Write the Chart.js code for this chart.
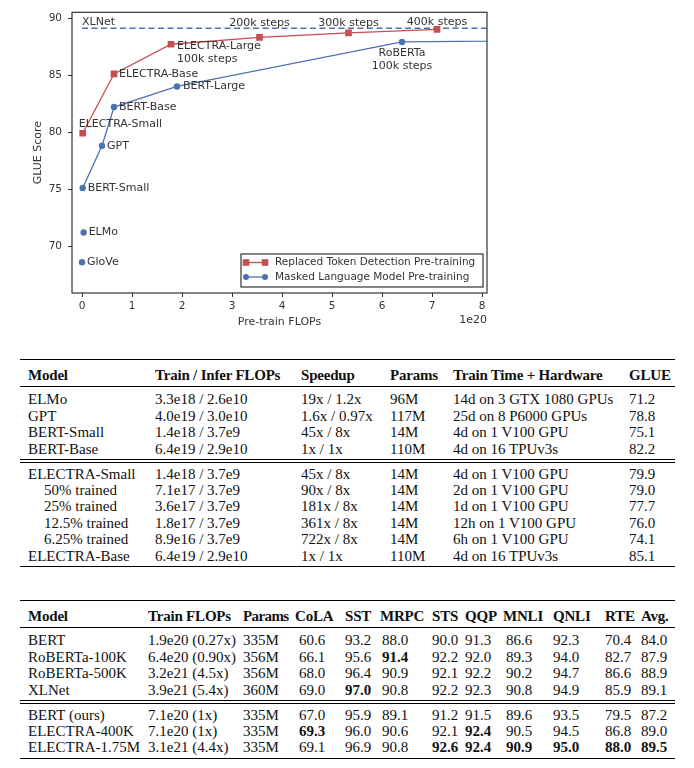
<!DOCTYPE html>
<html>
<head>
<meta charset="utf-8">
<script src="https://cdn.jsdelivr.net/npm/chart.js@4.4.0/dist/chart.umd.min.js"></script>
<style>
  body { margin: 0; background: #fff; width: 694px; height: 768px; position: relative; overflow: hidden; }
  #wrap { position: absolute; left: 0; top: 0; width: 694px; height: 340px; }
  table { position: absolute; left: 20px; width: 655px; border-collapse: collapse; table-layout: fixed;
          font-family: 'Liberation Serif', 'Times New Roman', serif; font-size: 15px; color: #111; }
  th, td { padding: 0; text-align: left; white-space: nowrap; line-height: 16.4px; vertical-align: middle; }
  th { font-weight: bold; padding-top: 7px; padding-bottom: 3px; letter-spacing: -0.2px; }
  th:first-child, td:first-child { padding-left: 8px; }
  thead { border-top: 1.6px solid #000; border-bottom: 1px solid #000; }
  tbody.a { border-bottom: 4px double #000; }
  tbody.b { border-bottom: 1.6px solid #000; }
  tr.first td { padding-top: 4px; }
  tbody.b tr.first td { padding-top: 2.5px; }
  tr.last td { padding-bottom: 2px; }
  td.ind { padding-left: 24px !important; }
  #t2 th:nth-child(3) { letter-spacing: -0.6px; }
  #t2 th:nth-child(4) { padding-left: 2px; }
  #t2 td:nth-child(4) { padding-left: 6px; }
  #t2 td:nth-child(6) { padding-left: 2px; }
  #t2 td:nth-child(9) { padding-left: 3px; }
  #t1 { top: 359px; }
  #t2 { top: 600px; }
</style>
</head>
<body>
<div id="wrap"><canvas id="glue" width="694" height="340"></canvas></div>

<table id="t1">
  <colgroup><col style="width:135px"><col style="width:146px"><col style="width:89px"><col style="width:63px"><col style="width:176px"><col style="width:46px"></colgroup>
  <thead><tr><th>Model</th><th>Train / Infer FLOPs</th><th>Speedup</th><th>Params</th><th>Train Time + Hardware</th><th>GLUE</th></tr></thead>
  <tbody class="a">
    <tr class="first"><td>ELMo</td><td>3.3e18 / 2.6e10</td><td>19x / 1.2x</td><td>96M</td><td>14d on 3 GTX 1080 GPUs</td><td>71.2</td></tr>
    <tr><td>GPT</td><td>4.0e19 / 3.0e10</td><td>1.6x / 0.97x</td><td>117M</td><td>25d on 8 P6000 GPUs</td><td>78.8</td></tr>
    <tr><td>BERT-Small</td><td>1.4e18 / 3.7e9</td><td>45x / 8x</td><td>14M</td><td>4d on 1 V100 GPU</td><td>75.1</td></tr>
    <tr class="last"><td>BERT-Base</td><td>6.4e19 / 2.9e10</td><td>1x / 1x</td><td>110M</td><td>4d on 16 TPUv3s</td><td>82.2</td></tr>
  </tbody>
  <tbody class="b">
    <tr class="first"><td>ELECTRA-Small</td><td>1.4e18 / 3.7e9</td><td>45x / 8x</td><td>14M</td><td>4d on 1 V100 GPU</td><td>79.9</td></tr>
    <tr><td class="ind">50% trained</td><td>7.1e17 / 3.7e9</td><td>90x / 8x</td><td>14M</td><td>2d on 1 V100 GPU</td><td>79.0</td></tr>
    <tr><td class="ind">25% trained</td><td>3.6e17 / 3.7e9</td><td>181x / 8x</td><td>14M</td><td>1d on 1 V100 GPU</td><td>77.7</td></tr>
    <tr><td class="ind">12.5% trained</td><td>1.8e17 / 3.7e9</td><td>361x / 8x</td><td>14M</td><td>12h on 1 V100 GPU</td><td>76.0</td></tr>
    <tr><td class="ind">6.25% trained</td><td>8.9e16 / 3.7e9</td><td>722x / 8x</td><td>14M</td><td>6h on 1 V100 GPU</td><td>74.1</td></tr>
    <tr class="last"><td>ELECTRA-Base</td><td>6.4e19 / 2.9e10</td><td>1x / 1x</td><td>110M</td><td>4d on 16 TPUv3s</td><td>85.1</td></tr>
  </tbody>
</table>

<table id="t2">
  <colgroup><col style="width:128px"><col style="width:95px"><col style="width:50px"><col style="width:52px"><col style="width:35px"><col style="width:52px"><col style="width:33px"><col style="width:38px"><col style="width:50px"><col style="width:52px"><col style="width:36px"><col style="width:34px"></colgroup>
  <thead><tr><th>Model</th><th>Train FLOPs</th><th>Params</th><th>CoLA</th><th>SST</th><th>MRPC</th><th>STS</th><th>QQP</th><th>MNLI</th><th>QNLI</th><th>RTE</th><th>Avg.</th></tr></thead>
  <tbody class="a">
    <tr class="first"><td>BERT</td><td>1.9e20 (0.27x)</td><td>335M</td><td>60.6</td><td>93.2</td><td>88.0</td><td>90.0</td><td>91.3</td><td>86.6</td><td>92.3</td><td>70.4</td><td>84.0</td></tr>
    <tr><td>RoBERTa-100K</td><td>6.4e20 (0.90x)</td><td>356M</td><td>66.1</td><td>95.6</td><td><b>91.4</b></td><td>92.2</td><td>92.0</td><td>89.3</td><td>94.0</td><td>82.7</td><td>87.9</td></tr>
    <tr><td>RoBERTa-500K</td><td>3.2e21 (4.5x)</td><td>356M</td><td>68.0</td><td>96.4</td><td>90.9</td><td>92.1</td><td>92.2</td><td>90.2</td><td>94.7</td><td>86.6</td><td>88.9</td></tr>
    <tr class="last"><td>XLNet</td><td>3.9e21 (5.4x)</td><td>360M</td><td>69.0</td><td><b>97.0</b></td><td>90.8</td><td>92.2</td><td>92.3</td><td>90.8</td><td>94.9</td><td>85.9</td><td>89.1</td></tr>
  </tbody>
  <tbody class="b">
    <tr class="first"><td>BERT (ours)</td><td>7.1e20 (1x)</td><td>335M</td><td>67.0</td><td>95.9</td><td>89.1</td><td>91.2</td><td>91.5</td><td>89.6</td><td>93.5</td><td>79.5</td><td>87.2</td></tr>
    <tr><td>ELECTRA-400K</td><td>7.1e20 (1x)</td><td>335M</td><td><b>69.3</b></td><td>96.0</td><td>90.6</td><td>92.1</td><td><b>92.4</b></td><td>90.5</td><td>94.5</td><td>86.8</td><td>89.0</td></tr>
    <tr class="last"><td>ELECTRA-1.75M</td><td>3.1e21 (4.4x)</td><td>335M</td><td>69.1</td><td>96.9</td><td>90.8</td><td><b>92.6</b></td><td><b>92.4</b></td><td><b>90.9</b></td><td><b>95.0</b></td><td><b>88.0</b></td><td><b>89.5</b></td></tr>
  </tbody>
</table>

<script>
// tick labels
var xTicks = [0, 1, 2, 3, 4, 5, 6, 7, 8];
var yTicks = [70, 75, 80, 85, 90];

// Replaced Token Detection (ELECTRA), FLOPs in 1e20
var rtdNames = ['ELECTRA-Small', 'ELECTRA-Base', 'ELECTRA-Large\n100k steps', '200k steps', '300k steps', '400k steps'];
var rtdFlops = [0.014, 0.64, 1.78, 3.55, 5.33, 7.1];
var rtdGlue = [79.9, 85.1, 87.7, 88.3, 88.7, 89.0];

// Masked Language Model, connected
var mlmNames = ['BERT-Small', 'GPT', 'BERT-Base', 'BERT-Large', 'RoBERTa\n100k steps', ''];
var mlmFlops = [0.014, 0.40, 0.64, 1.9, 6.4, 32];
var mlmGlue = [75.1, 78.8, 82.2, 84.0, 87.9, 88.9];

// Masked / other baselines, not connected
var baseNames = ['GloVe', 'ELMo'];
var baseFlops = [0.0, 0.033];
var baseGlue = [68.6, 71.2];

// XLNet reference line
var xlnetFlops = [0, 39];
var xlnetGlue = [89.1, 89.1];

var legendNames = ['Replaced Token Detection Pre-training', 'Masked Language Model Pre-training'];

var RED = '#c44e52', BLUE = '#4c72b0', INK = '#333333';
var FONT = "'DejaVu Sans', sans-serif";

// label offsets from point: dx, dy, align
var labelPos = {
  'ELECTRA-Small': [-4, -9, 'left'],
  'ELECTRA-Base': [5, 0, 'left'],
  'ELECTRA-Large\n100k steps': [6, 2, 'left'],
  '200k steps': [0, -14.6, 'center'],
  '300k steps': [0, -9.6, 'center'],
  '400k steps': [0, -7.3, 'center'],
  'BERT-Small': [5, 0, 'left'],
  'GPT': [5, 0, 'left'],
  'BERT-Base': [5, 0, 'left'],
  'BERT-Large': [6, 0, 'left'],
  'RoBERTa\n100k steps': [0, 11, 'center'],
  'GloVe': [5, 0, 'left'],
  'ELMo': [5, 0, 'left']
};

function pts(xs, ys) {
  return xs.map(function (x, i) { return { x: x, y: ys[i] }; });
}

var pointNames = [rtdNames, mlmNames, baseNames, null];

var extras = {
  id: 'extras',
  afterDatasetsDraw: function (chart) {
    var ctx = chart.ctx, xs = chart.scales.x, ys = chart.scales.y, a = chart.chartArea;
    ctx.save();
    ctx.strokeStyle = INK;
    ctx.lineWidth = 1.2;
    ctx.strokeRect(a.left, a.top, a.right - a.left, a.bottom - a.top);

    ctx.fillStyle = INK;
    ctx.font = '11px ' + FONT;
    ctx.textBaseline = 'middle';
    chart.data.datasets.forEach(function (ds, di) {
      var names = pointNames[di];
      if (!names) return;
      ds.data.forEach(function (p, i) {
        var name = names[i];
        if (!name) return;
        var pos = labelPos[name];
        var px = xs.getPixelForValue(p.x), py = ys.getPixelForValue(p.y);
        ctx.textAlign = pos[2];
        name.split('\n').forEach(function (line, k) {
          ctx.fillText(line, px + pos[0], py + pos[1] + k * 13);
        });
      });
    });

    // XLNet label at start of the dashed line
    ctx.textAlign = 'left';
    ctx.fillText('XLNet', xs.getPixelForValue(xlnetFlops[0]), ys.getPixelForValue(xlnetGlue[0]) - 6.5);

    // exponent
    ctx.textAlign = 'right';
    ctx.fillText('1e20', a.right, a.bottom + 27);

    // legend box
    var bx = a.right - 246, by = a.bottom - 39, bw = 242, bh = 33;
    ctx.fillStyle = '#ffffff';
    ctx.fillRect(bx, by, bw, bh);
    ctx.strokeStyle = INK;
    ctx.lineWidth = 1.2;
    ctx.strokeRect(bx, by, bw, bh);
    var cols = [RED, BLUE];
    legendNames.forEach(function (name, k) {
      var yy = by + 8.5 + k * 14.5;
      var x1 = bx + 5, x2 = bx + 24;
      ctx.strokeStyle = cols[k];
      ctx.fillStyle = cols[k];
      ctx.lineWidth = 1.3;
      ctx.beginPath(); ctx.moveTo(x1, yy); ctx.lineTo(x2, yy); ctx.stroke();
      [x1, x2].forEach(function (mx) {
        ctx.beginPath();
        if (k === 0) ctx.rect(mx - 3.3, yy - 3.3, 6.6, 6.6);
        else ctx.arc(mx, yy, 3, 0, Math.PI * 2);
        ctx.fill();
      });
      ctx.fillStyle = INK;
      ctx.font = '10.5px ' + FONT;
      ctx.textAlign = 'left';
      ctx.fillText(name, bx + 34, yy);
    });
    ctx.restore();
  }
};

var tickFont = { family: FONT, size: 10.5 };
var titleFont = { family: FONT, size: 11 };

new Chart(document.getElementById('glue').getContext('2d'), {
  type: 'scatter',
  data: {
    datasets: [{
      label: legendNames[0],
      data: pts(rtdFlops, rtdGlue),
      showLine: true,
      borderColor: RED,
      backgroundColor: RED,
      borderWidth: 1.3,
      pointStyle: 'rect',
      pointRadius: 4.7,
      pointBorderWidth: 0,
      order: 0
    }, {
      label: legendNames[1],
      data: pts(mlmFlops, mlmGlue),
      showLine: true,
      borderColor: BLUE,
      backgroundColor: BLUE,
      borderWidth: 1.3,
      pointStyle: 'circle',
      pointRadius: 3.2,
      pointBorderWidth: 0,
      order: 1
    }, {
      label: 'baselines',
      data: pts(baseFlops, baseGlue),
      showLine: false,
      borderColor: BLUE,
      backgroundColor: BLUE,
      pointStyle: 'circle',
      pointRadius: 3.2,
      pointBorderWidth: 0,
      order: 2
    }, {
      label: 'XLNet',
      data: pts(xlnetFlops, xlnetGlue),
      showLine: true,
      borderColor: BLUE,
      borderWidth: 1.5,
      borderDash: [6, 3.5],
      pointRadius: 0,
      order: 3
    }]
  },
  options: {
    responsive: false,
    animation: false,
    devicePixelRatio: 1,
    layout: { padding: { top: 10, right: 207, bottom: 0, left: 0 } },
    plugins: { legend: { display: false }, tooltip: { enabled: false } },
    scales: {
      x: {
        type: 'linear', min: -0.2, max: 8.1,
        afterBuildTicks: function (s) { s.ticks = xTicks.map(function (v) { return { value: v }; }); },
        afterFit: function (s) { s.height = 47; },
        grid: { drawOnChartArea: false, drawTicks: true, tickLength: 4, color: INK, lineWidth: 1 },
        border: { display: false },
        ticks: { color: INK, font: tickFont, padding: 3, maxRotation: 0 },
        title: { display: true, text: 'Pre-train FLOPs', color: INK, font: titleFont, padding: { top: 0, bottom: 11 } }
      },
      y: {
        type: 'linear', min: 65.9, max: 90.5,
        afterBuildTicks: function (s) { s.ticks = yTicks.map(function (v) { return { value: v }; }); },
        afterFit: function (s) { s.width = 72; },
        grid: { drawOnChartArea: false, drawTicks: true, tickLength: 4, color: INK, lineWidth: 1 },
        border: { display: false },
        ticks: { color: INK, font: tickFont, padding: 6 },
        title: { display: true, text: 'GLUE Score', color: INK, font: titleFont, padding: { top: 32, bottom: 0 } }
      }
    }
  },
  plugins: [extras]
});
</script>
</body>
</html>
